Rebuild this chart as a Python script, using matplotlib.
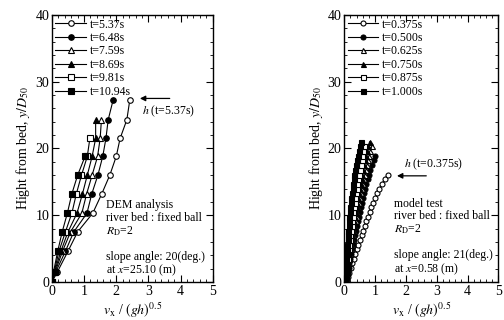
import matplotlib
matplotlib.use("Agg")
import matplotlib.pyplot as plt
from matplotlib.ticker import MultipleLocator

plt.rcParams['font.family'] = ['Liberation Serif', 'DejaVu Serif']
plt.rcParams['mathtext.fontset'] = 'stix'

# ---- left panel : DEM analysis ----
dem_labels = ['t=5.37s', 't=6.48s', 't=7.59s', 't=8.69s', 't=9.81s', 't=10.94s']
dem_y = [0.0, 1.5, 4.6, 7.5, 10.3, 13.2, 16.0, 18.8, 21.5, 24.3, 27.2]
dem_x = [
    [0.0, 0.17, 0.50, 0.80, 1.27, 1.55, 1.80, 2.00, 2.12, 2.33, 2.42],
    [0.0, 0.12, 0.42, 0.68, 1.09, 1.24, 1.43, 1.58, 1.68, 1.75, 1.90],
    [0.0, 0.10, 0.33, 0.58, 0.93, 1.08, 1.25, 1.42, 1.50, 1.54],
    [0.0, 0.08, 0.28, 0.50, 0.78, 0.95, 1.10, 1.25, 1.36, 1.36],
    [0.0, 0.07, 0.22, 0.42, 0.62, 0.76, 0.92, 1.10, 1.18],
    [0.0, 0.05, 0.18, 0.32, 0.48, 0.62, 0.80, 1.03],
]

# ---- right panel : model test ----
exp_labels = ['t=0.375s', 't=0.500s', 't=0.625s', 't=0.750s', 't=0.875s', 't=1.000s']
exp_y = [0.0, 0.7, 1.4, 2.1, 2.8, 3.5, 4.2, 4.9, 5.6, 6.3, 7.0, 7.7, 8.4, 9.1,
         9.8, 10.5, 11.2, 11.9, 12.6, 13.3, 14.0, 14.7, 15.4, 16.1, 16.8, 17.5,
         18.2, 18.9, 19.6, 20.3, 21.0]
exp_x = [
    [0.08, 0.12, 0.16, 0.21, 0.26, 0.31, 0.36, 0.41, 0.46, 0.51, 0.56, 0.61,
     0.66, 0.71, 0.77, 0.83, 0.88, 0.94, 1.00, 1.07, 1.14, 1.22, 1.31, 1.41],
    [0.06, 0.08, 0.11, 0.14, 0.17, 0.20, 0.23, 0.26, 0.29, 0.32, 0.35, 0.38,
     0.41, 0.44, 0.47, 0.51, 0.54, 0.57, 0.61, 0.64, 0.68, 0.72, 0.76, 0.80,
     0.85, 0.90, 0.95, 1.00],
    [0.05, 0.07, 0.09, 0.12, 0.14, 0.17, 0.20, 0.22, 0.25, 0.27, 0.30, 0.33,
     0.35, 0.38, 0.41, 0.43, 0.46, 0.49, 0.52, 0.55, 0.58, 0.61, 0.64, 0.67,
     0.71, 0.74, 0.78, 0.81, 0.85, 0.89],
    [0.04, 0.06, 0.08, 0.10, 0.12, 0.15, 0.17, 0.19, 0.21, 0.24, 0.26, 0.28,
     0.31, 0.33, 0.35, 0.38, 0.40, 0.43, 0.45, 0.48, 0.51, 0.53, 0.56, 0.59,
     0.62, 0.65, 0.68, 0.71, 0.75, 0.78, 0.82],
    [0.04, 0.05, 0.07, 0.08, 0.10, 0.12, 0.13, 0.15, 0.17, 0.19, 0.20, 0.22,
     0.24, 0.26, 0.28, 0.30, 0.32, 0.34, 0.36, 0.38, 0.40, 0.43, 0.45, 0.48,
     0.50, 0.53, 0.56, 0.59, 0.62, 0.65],
    [0.02, 0.03, 0.04, 0.05, 0.06, 0.07, 0.08, 0.09, 0.10, 0.11, 0.12, 0.13,
     0.14, 0.15, 0.17, 0.18, 0.20, 0.21, 0.23, 0.25, 0.27, 0.29, 0.31, 0.33,
     0.35, 0.38, 0.41, 0.44, 0.47, 0.51, 0.55],
]

markers = ['o', 'o', '^', '^', 's', 's']
fills = ['white', 'black', 'white', 'black', 'white', 'black']


def style_axes(ax):
    ax.set_xlim(0, 5)
    ax.set_ylim(0, 40)
    ax.xaxis.set_major_locator(MultipleLocator(1))
    ax.xaxis.set_minor_locator(MultipleLocator(0.2))
    ax.yaxis.set_major_locator(MultipleLocator(10))
    ax.yaxis.set_minor_locator(MultipleLocator(2))
    ax.tick_params(which='both', direction='in', top=True, right=True,
                   labelsize=10, pad=2)
    ax.tick_params(which='major', length=5, width=0.8)
    ax.tick_params(which='minor', length=2.5, width=0.6)
    for s in ax.spines.values():
        s.set_linewidth(1.0)
    ax.set_xlabel(r'$v_{\rm x}$ / $(gh)^{0.5}$', fontsize=10, labelpad=2)
    ax.set_ylabel(r'Hight from bed, $y/D_{50}$', fontsize=10, labelpad=2)


def draw_panel(ax, xs_list, ys, labels, ms):
    for xs, lab, m, fc in zip(xs_list, labels, markers, fills):
        ax.plot(xs, ys[:len(xs)], color='black', lw=0.8, marker=m,
                markersize=ms, markerfacecolor=fc, markeredgecolor='black',
                markeredgewidth=0.8, label=lab)
    ax.legend(loc='upper left', frameon=False, fontsize=8.5, handlelength=2.6,
              handletextpad=0.3, labelspacing=0.12, borderaxespad=0.2,
              borderpad=0.1)


fig = plt.figure(figsize=(5.04, 3.2), dpi=100)
ax1 = fig.add_axes([0.103, 0.119, 0.319, 0.834])
ax2 = fig.add_axes([0.683, 0.119, 0.306, 0.834])

draw_panel(ax1, dem_x, dem_y, dem_labels, 4)
draw_panel(ax2, exp_x, exp_y, exp_labels, 3.6)
style_axes(ax1)
style_axes(ax2)

ax1.annotate('', xy=(2.65, 27.5), xytext=(3.75, 27.5),
             arrowprops=dict(arrowstyle='-|>', color='black', lw=0.9,
                             mutation_scale=8))
ax1.text(2.8, 25.6, r'$h$ (t=5.37s)', fontsize=8.5, va='center')
ax1.text(1.68, 12.4, 'DEM analysis\nriver bed : fixed ball\n$R_{\\rm D}$=2\n\n'
         'slope angle: 20(deg.)\nat $x$=25.10 (m)', fontsize=8.5, va='top',
         linespacing=1.05)

ax2.annotate('', xy=(1.62, 15.9), xytext=(2.75, 15.9),
             arrowprops=dict(arrowstyle='-|>', color='black', lw=0.9,
                             mutation_scale=8))
ax2.text(1.95, 17.6, r'$h$ (t=0.375s)', fontsize=8.5, va='center')
ax2.text(1.62, 12.6, 'model test\nriver bed : fixed ball\n$R_{\\rm D}$=2\n\n'
         'slope angle: 21(deg.)\nat $x$=0.58 (m)', fontsize=8.5, va='top',
         linespacing=1.05)

fig.savefig('out.png', dpi=100)
